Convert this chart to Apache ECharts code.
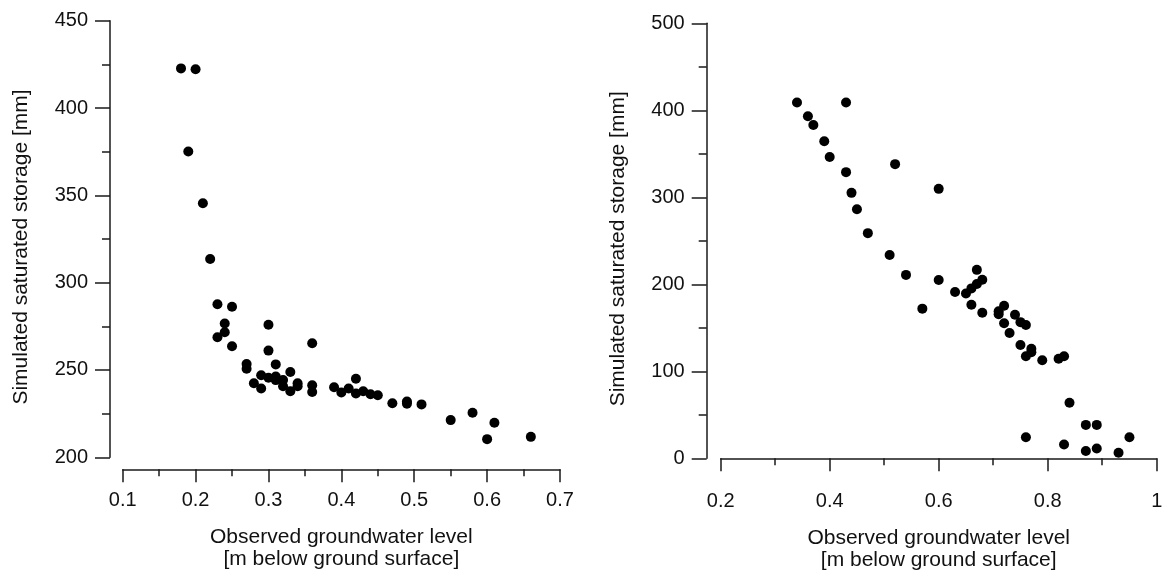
<!DOCTYPE html>
<html>
<head>
<meta charset="utf-8">
<script src="https://cdn.jsdelivr.net/npm/echarts@6/dist/echarts.min.js"></script>
<style>
html,body{margin:0;padding:0;background:#fff;}
#chart{width:1165px;height:572px;}
</style>
</head>
<body>
<div id="chart"></div>
<script>
// Left panel data: observed groundwater level [m] vs simulated saturated storage [mm]
const leftX = [0.18,0.20,0.19,0.21,0.22,0.23,0.25,0.24,0.24,0.23,0.25,0.30,0.30,0.36,0.27,0.27,0.31,0.33,0.29,0.30,0.31,0.31,0.32,0.32,0.28,0.29,0.33,0.34,0.34,0.36,0.36,0.39,0.40,0.41,0.42,0.42,0.43,0.44,0.45,0.47,0.49,0.49,0.51,0.55,0.58,0.61,0.60,0.66];
const leftY = [422.7,422.2,375.1,345.5,313.5,287.6,286.2,276.6,271.6,268.7,263.6,275.9,261.1,265.3,253.4,250.7,253.2,248.8,247.0,245.5,246.3,244.2,244.2,240.7,242.4,239.4,237.8,242.4,240.7,241.3,237.4,240.1,237.1,239.4,245.0,236.5,237.8,236.1,235.5,230.9,231.9,230.7,230.3,221.3,225.5,219.8,210.4,211.7];
// Right panel data
const rightX = [0.34,0.43,0.36,0.37,0.39,0.40,0.43,0.52,0.44,0.45,0.60,0.47,0.51,0.54,0.60,0.57,0.63,0.65,0.66,0.67,0.67,0.68,0.66,0.68,0.71,0.71,0.72,0.74,0.72,0.75,0.76,0.73,0.75,0.77,0.77,0.76,0.79,0.82,0.83,0.84,0.87,0.89,0.76,0.95,0.83,0.87,0.89,0.93];
const rightY = [409,409,393.2,383.1,364.4,346.4,328.9,338.1,305.1,286.3,309.7,258.8,233.7,210.8,204.9,172.0,191.2,189.5,195.3,200.3,216.6,205.3,176.5,167.4,169.0,165.7,175.3,164.9,155.3,156.5,153.2,144.0,130.2,126.0,121.9,117.3,112.7,114.4,117.3,63.9,38.4,38.4,24.2,24.2,15.9,8.3,11.3,6.3];
// Axis settings
const leftXRange = [0.1, 0.7], leftXStep = 0.1;
const leftYRange = [200, 450], leftYStep = 50;
const rightXRange = [0.2, 1.0], rightXStep = 0.2;
const rightYRange = [0, 500], rightYStep = 100;
const xTitle = 'Observed groundwater level\n[m below ground surface]';
const yTitle = 'Simulated saturated storage [mm]';

const FONT = 'Liberation Sans, Arial, Helvetica, sans-serif';
const AX = '#1a1a1a';

function pairs(xs, ys){ return xs.map((x,i)=>[x, ys[i]]); }
function fmtX(v){ return (Math.abs(v-1)<1e-9) ? '1' : (+v.toFixed(1)).toString(); }

function xAxisCfg(idx, range, step){
  return {
    type:'value', gridIndex:idx, min:range[0], max:range[1], interval:step,
    offset:12, position:'bottom',
    axisLine:{show:true, lineStyle:{color:AX, width:1.5}},
    axisTick:{show:true, length:13, lineStyle:{color:AX, width:1.5}},
    minorTick:{show:true, splitNumber:2, length:7, lineStyle:{color:AX, width:1.5}},
    splitLine:{show:false}, minorSplitLine:{show:false},
    axisLabel:{color:'#111', fontSize:20, fontFamily:FONT, margin:21, formatter:fmtX},
    name:xTitle, nameLocation:'middle', nameGap:57,
    nameTextStyle:{color:'#111', fontSize:21, fontFamily:FONT, lineHeight:22}
  };
}
function yAxisCfg(idx, range, step, off){
  return {
    type:'value', gridIndex:idx, min:range[0], max:range[1], interval:step,
    offset:off, position:'left',
    axisLine:{show:true, lineStyle:{color:AX, width:1.5}},
    axisTick:{show:true, length:15, lineStyle:{color:AX, width:1.5}},
    minorTick:{show:true, splitNumber:2, length:8, lineStyle:{color:AX, width:1.5}},
    splitLine:{show:false}, minorSplitLine:{show:false},
    axisLabel:{color:'#111', fontSize:20, fontFamily:FONT, margin:22},
    name:yTitle, nameLocation:'middle', nameGap:78, nameRotate:90,
    nameTextStyle:{color:'#111', fontSize:21, fontFamily:FONT, padding:[0,16,0,0]}
  };
}

const chart = echarts.init(document.getElementById('chart'), null, {renderer:'canvas'});
chart.setOption({
  backgroundColor:'#fff',
  animation:false,
  grid:[
    {left:122.7, top:20.7, width:437.3, height:436.6, containLabel:false, outerBoundsMode:'none'},
    {left:720.7, top:23.3, width:436, height:435, containLabel:false, outerBoundsMode:'none'}
  ],
  xAxis:[ xAxisCfg(0, leftXRange, leftXStep), xAxisCfg(1, rightXRange, rightXStep) ],
  yAxis:[ yAxisCfg(0, leftYRange, leftYStep, 12.7), yAxisCfg(1, rightYRange, rightYStep, 14) ],
  series:[
    {type:'scatter', xAxisIndex:0, yAxisIndex:0, data:pairs(leftX,leftY), symbolSize:10, itemStyle:{color:'#000', opacity:1}},
    {type:'scatter', xAxisIndex:1, yAxisIndex:1, data:pairs(rightX,rightY), symbolSize:10, itemStyle:{color:'#000', opacity:1}}
  ]
});
</script>
</body>
</html>
